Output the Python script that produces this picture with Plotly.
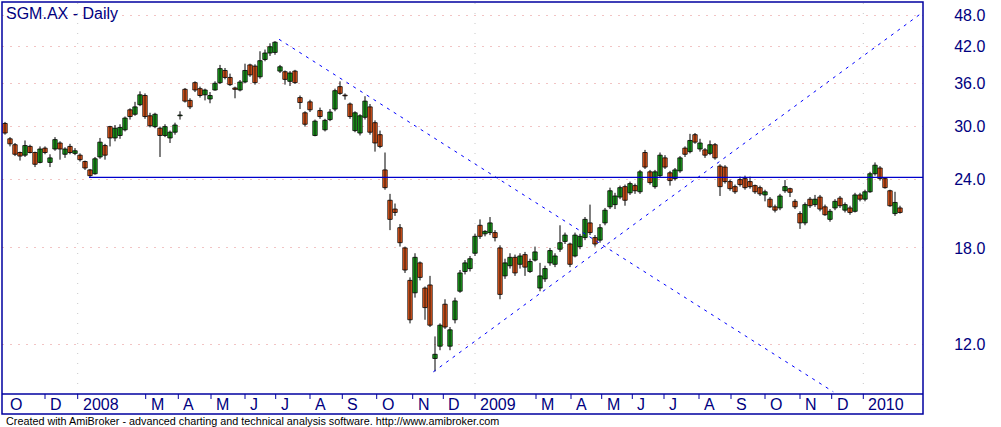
import numpy as np
import plotly.graph_objects as go

NAVY = "#000080"
FRAME = "#0000a0"
UP = "#22b422"
DOWN = "#ff6420"
FONT = "Liberation Sans, Arial, sans-serif"

# daily bars, thinned (one candle per ~3 sessions), Oct 2007 - Jan 2010
opens = [30.4, 28.5, 27.8, 26.9, 26.6, 27.6, 26.9, 25.8, 27.4, 25.8,
         27.3, 28.0, 26.7, 27.6, 26.8, 26.6, 25.9, 25.0, 24.6, 26.4,
         27.7, 30.0, 28.6, 28.9, 29.6, 32.2, 31.6, 32.9, 34.2, 31.4,
         30.0, 29.8, 28.9, 28.6, 29.3, 31.4, 35.1, 33.5, 36.1, 35.2,
         34.3, 33.7, 35.0, 36.1, 38.0, 36.9, 35.3, 35.0, 36.2, 38.9,
         38.7, 37.0, 39.8, 40.9, 41.0, 37.9, 37.8, 36.3, 37.9, 33.9,
         31.8, 33.3, 28.9, 32.1, 29.6, 30.9, 32.3, 35.5, 34.25, 33.0,
         29.5, 29.2, 31.2, 32.6, 30.5, 29.0, 25.0, 22.0, 21.2, 19.6,
         18.0, 15.7, 14.9, 16.9, 15.2, 15.4, 11.3, 11.9, 14.2, 11.9,
         13.3, 15.0, 16.3, 16.5, 17.6, 19.8, 19.1, 19.2, 19.2, 18.0,
         16.0, 16.7, 17.3, 16.8, 17.5, 16.3, 17.1, 15.2, 15.8, 16.9,
         16.8, 17.9, 18.5, 18.3, 17.4, 18.1, 18.8, 20.0, 18.8, 18.6,
         20.0, 21.4, 21.6, 22.3, 23.3, 22.7, 23.4, 22.8, 26.9, 24.8,
         23.3, 24.4, 26.3, 24.7, 24.1, 24.9, 27.4, 27.0, 29.0, 27.3,
         27.2, 26.8, 27.8, 25.4, 25.3, 23.8, 23.3, 24.0, 24.1, 23.8,
         23.4, 23.2, 22.5, 22.1, 21.4, 21.3, 22.9, 23.1, 21.9, 20.8,
         20.0, 22.1, 21.6, 22.3, 21.4, 20.3, 21.3, 22.2, 21.1, 21.3,
         21.0, 22.5, 22.1, 22.8, 24.6, 25.2, 24.1, 22.9, 20.8, 21.3]
highs = [30.6, 28.7, 28.0, 27.0, 28.3, 27.8, 27.0, 27.6, 27.6, 26.7,
         28.7, 28.2, 27.5, 27.9, 27.4, 26.8, 26.0, 25.1, 26.4, 28.6,
         27.9, 30.1, 30.2, 30.3, 31.3, 32.4, 33.3, 34.8, 34.5, 31.8,
         31.8, 30.0, 30.3, 29.5, 30.5, 32.0, 35.3, 33.8, 36.3, 35.5,
         35.2, 34.7, 36.3, 38.9, 38.4, 37.5, 35.5, 36.5, 39.1, 39.1,
         39.0, 41.2, 41.5, 42.6, 43.0, 38.9, 38.0, 37.9, 38.1, 34.2,
         32.0, 33.6, 30.9, 32.5, 31.0, 32.3, 35.2, 36.3, 34.5, 33.2,
         32.0, 31.6, 34.1, 33.0, 30.8, 29.5, 26.9, 22.6, 21.7, 19.9,
         18.1, 15.9, 17.6, 17.0, 15.3, 16.0, 12.4, 13.1, 14.5, 12.9,
         14.6, 16.4, 17.1, 17.4, 19.1, 20.3, 19.4, 20.5, 19.4, 18.2,
         17.2, 17.6, 17.5, 17.6, 17.7, 17.2, 18.1, 16.9, 16.7, 18.0,
         17.6, 19.8, 19.2, 18.4, 19.2, 19.1, 20.5, 21.6, 19.0, 19.9,
         21.3, 23.2, 22.7, 23.4, 23.5, 23.8, 23.6, 25.0, 27.2, 25.0,
         25.0, 26.9, 26.6, 24.9, 25.2, 26.5, 27.6, 29.1, 29.2, 28.5,
         27.4, 28.3, 28.0, 25.6, 25.5, 24.0, 23.5, 24.3, 24.4, 24.3,
         23.5, 23.4, 23.0, 22.3, 21.6, 22.6, 23.95, 23.2, 22.1, 21.0,
         21.8, 22.3, 22.5, 22.5, 21.6, 21.2, 22.1, 22.4, 21.8, 21.5,
         22.7, 22.7, 23.0, 24.8, 25.8, 25.4, 24.2, 23.0, 22.8, 21.5]
lows = [29.0, 27.6, 26.5, 26.0, 26.4, 26.8, 25.3, 25.7, 26.7, 25.3,
        27.1, 26.1, 26.3, 26.7, 26.6, 25.9, 25.0, 24.25, 24.5, 26.2,
        26.1, 27.6, 28.2, 28.5, 29.4, 30.9, 31.4, 32.7, 31.0, 29.9,
        29.8, 26.4, 28.7, 28.0, 29.0, 30.9, 33.2, 32.3, 34.7, 33.9,
        33.5, 33.1, 34.9, 35.9, 36.6, 35.6, 33.8, 34.8, 36.0, 37.0,
        35.8, 36.7, 39.5, 40.4, 40.6, 37.6, 35.8, 35.6, 35.9, 32.3,
        30.0, 31.9, 28.8, 31.0, 29.4, 30.7, 32.0, 34.3, 33.6, 31.0,
        29.3, 28.9, 30.9, 29.0, 27.0, 27.4, 23.0, 19.4, 20.6, 18.1,
        16.2, 13.1, 14.6, 15.7, 13.3, 12.9, 10.7, 11.7, 12.8, 11.7,
        13.1, 14.9, 16.1, 16.3, 17.4, 18.7, 18.9, 19.0, 18.5, 14.5,
        15.8, 16.5, 16.0, 16.5, 16.0, 16.2, 17.0, 15.0, 15.6, 16.7,
        16.6, 17.7, 18.3, 16.6, 17.3, 17.9, 18.6, 19.0, 18.1, 18.4,
        19.8, 21.2, 21.2, 22.1, 21.5, 22.5, 22.6, 22.6, 25.1, 23.5,
        23.1, 24.2, 25.1, 23.4, 23.9, 24.7, 26.4, 26.8, 27.9, 27.0,
        26.3, 26.6, 26.1, 22.4, 23.6, 22.9, 22.6, 23.3, 23.0, 23.1,
        22.6, 22.4, 21.9, 21.3, 20.9, 21.1, 22.7, 22.3, 21.2, 19.5,
        19.8, 21.3, 21.4, 21.0, 20.6, 20.1, 21.1, 21.3, 20.9, 20.7,
        20.9, 21.9, 21.9, 22.7, 24.4, 23.9, 23.1, 21.4, 20.6, 20.8]
closes = [29.2, 27.9, 26.7, 26.5, 27.7, 26.9, 25.6, 27.3, 26.9, 26.3,
          28.4, 27.3, 27.3, 26.9, 27.1, 26.1, 25.2, 24.4, 26.2, 28.1,
          26.6, 28.6, 29.8, 29.9, 31.1, 31.3, 32.6, 34.3, 31.3, 30.1,
          31.6, 28.9, 30.0, 29.3, 30.2, 31.5, 33.4, 32.6, 35.0, 34.2,
          35.0, 34.2, 36.0, 38.3, 36.9, 35.8, 35.1, 36.2, 38.0, 37.3,
          36.1, 39.6, 40.9, 42.0, 42.8, 38.6, 36.6, 37.6, 36.1, 33.2,
          30.3, 32.2, 30.7, 31.3, 30.8, 31.9, 34.9, 34.5, 34.15, 31.3,
          31.8, 31.4, 33.4, 29.3, 28.0, 27.6, 23.2, 20.3, 20.9, 18.4,
          16.4, 13.3, 17.3, 15.9, 14.0, 13.0, 11.5, 13.0, 12.9, 12.75,
          14.4, 16.2, 16.9, 17.2, 18.9, 18.9, 19.3, 20.0, 18.8, 14.8,
          16.9, 17.3, 16.2, 17.4, 16.6, 17.0, 17.7, 16.0, 16.5, 17.8,
          17.4, 18.4, 19.0, 16.8, 19.0, 18.9, 20.3, 19.2, 18.3, 19.6,
          21.1, 22.9, 22.4, 23.2, 22.0, 23.6, 22.9, 24.8, 25.3, 23.7,
          24.8, 26.6, 25.3, 23.9, 25.0, 26.3, 26.7, 28.3, 28.1, 28.0,
          26.6, 27.8, 26.3, 23.3, 23.8, 23.1, 22.8, 23.5, 23.2, 23.3,
          22.8, 22.6, 22.8, 21.4, 21.1, 22.4, 23.3, 22.75, 21.4, 20.0,
          21.6, 21.5, 22.1, 21.2, 20.7, 21.0, 21.9, 21.5, 21.6, 20.9,
          22.5, 22.1, 22.8, 24.6, 25.5, 24.1, 23.2, 21.5, 21.8, 20.9]

# month axis (positions in bar units)
month_labels = ["O", "D", "2008", "M", "A", "M", "J", "J", "A", "S", "O", "N", "D",
                "2009", "M", "A", "M", "J", "J", "A", "S", "O", "N", "D", "2010"]
month_pos = [0.0, 8.0, 14.54, 28.14, 34.66, 41.2, 48.0, 54.14, 61.0, 67.46, 74.34,
             81.54, 87.66, 94.0, 106.2, 113.2, 119.34, 125.46, 131.8, 138.8, 145.2,
             152.0, 159.0, 165.34, 171.66]
year_pos = [14.54, 94.0, 171.66]
price_ticks = [12, 18, 24, 30, 36, 42, 48]

# drawn studies
down_trend_x, down_trend_y = [54.8, 165.66], [43.33, 9.82]
up_trend_x, up_trend_y = [85.66, 183.6], [10.68, 48.6]
level_x, level_y = [16.8, 183.6], [24.23, 24.23]

X_RANGE = [-0.6, 183.6]
Y_RANGE = [np.log10(9.73), np.log10(50.7)]
STRIP = -20 / 392   # month strip height in paper units

idx = np.arange(len(closes))
o = np.array(opens); c = np.array(closes)
body = c - o
# keep doji bodies visible as a thin bar
body = np.where(np.abs(body) < 0.08, np.where(body >= 0, 0.08, -0.08), body)
colors = [UP if cc > oo else DOWN for oo, cc in zip(opens, closes)]

wx, wy = [], []
for i, (h, l) in enumerate(zip(highs, lows)):
    wx += [i, i, None]
    wy += [l, h, None]

fig = go.Figure()
fig.add_trace(go.Scatter(x=wx, y=wy, mode="lines", hoverinfo="skip", showlegend=False,
                         line=dict(color="black", width=1)))
fig.add_trace(go.Bar(x=idx, y=body, base=o, width=0.88, marker_color=colors,
                     marker_line=dict(color="black", width=0.8), hoverinfo="skip",
                     showlegend=False))

for xs, ys in ((down_trend_x, down_trend_y), (up_trend_x, up_trend_y)):
    fig.add_trace(go.Scatter(x=xs, y=ys, mode="lines", hoverinfo="skip", showlegend=False,
                             line=dict(color="#0000ff", width=1, dash="3px,5px")))
fig.add_trace(go.Scatter(x=level_x, y=level_y, mode="lines", hoverinfo="skip",
                         showlegend=False, line=dict(color="#0000cc", width=1.2)))

shapes = []
for p in year_pos:
    shapes.append(dict(type="line", xref="x", yref="paper", x0=p, x1=p, y0=0, y1=1,
                       line=dict(color="#c8c8c8", width=1, dash="1px,9px"), layer="below"))
# frame + month strip
shapes.append(dict(type="rect", xref="paper", yref="paper", x0=0, x1=1, y0=STRIP, y1=1,
                   line=dict(color=FRAME, width=1.5)))
shapes.append(dict(type="line", xref="paper", yref="paper", x0=0, x1=1, y0=0, y1=0,
                   line=dict(color=FRAME, width=1.5)))
for p in month_pos[1:]:
    shapes.append(dict(type="line", xref="x", yref="paper", x0=p, x1=p, y0=0, y1=-5 / 392,
                       line=dict(color=FRAME, width=1)))

annotations = [dict(xref="x", yref="paper", x=p, y=STRIP / 2, text=t, showarrow=False,
                    xanchor="left", yanchor="middle", xshift=3,
                    font=dict(family=FONT, size=16, color=NAVY))
               for p, t in zip(month_pos, month_labels)]
annotations.append(dict(xref="paper", yref="paper", x=0, y=1, xshift=2, yshift=-1,
                        xanchor="left", yanchor="top", showarrow=False,
                        text="SGM.AX - Daily", font=dict(family=FONT, size=16, color=NAVY)))
annotations.append(dict(xref="paper", yref="paper", x=0, y=-27 / 392, xshift=2,
                        xanchor="left", yanchor="middle", showarrow=False,
                        text="Created with AmiBroker - advanced charting and technical "
                             "analysis software. http://www.amibroker.com",
                        font=dict(family=FONT, size=10.8, color="black")))

fig.update_layout(
    width=1001, height=427, margin=dict(l=2, r=78, t=2, b=33),
    paper_bgcolor="white", plot_bgcolor="white", barmode="overlay",
    showlegend=False, hovermode=False, shapes=shapes, annotations=annotations,
    xaxis=dict(range=X_RANGE, showgrid=False, zeroline=False, showticklabels=False,
               ticks="", fixedrange=True),
    yaxis=dict(type="log", range=Y_RANGE, side="right", tickvals=price_ticks,
               ticktext=[f"{v:.1f}" for v in price_ticks], ticks="outside", ticklen=27,
               tickcolor="rgba(0,0,0,0)", showgrid=True, gridcolor="#f2c4c4",
               griddash="2px,6px", zeroline=False, showline=False, automargin=False,
               tickfont=dict(family=FONT, size=16, color=NAVY), fixedrange=True),
)

# the page body has a default 8px margin; drop it so the figure sits at 0,0
fig.write_html("out.html", config={"displayModeBar": False},
               post_script="document.body.style.margin='0px';")
